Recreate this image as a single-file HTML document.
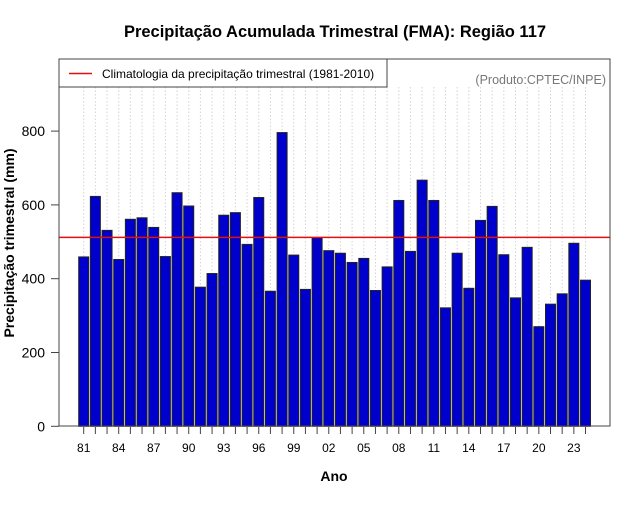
<!DOCTYPE html>
<html><head><meta charset="utf-8"><style>
body{margin:0;background:#fff;}
svg text{font-family:"Liberation Sans",sans-serif;}
</style></head><body>
<svg id="chart" width="640" height="500" xmlns="http://www.w3.org/2000/svg">
<rect width="640" height="500" fill="#fff"/>
<text x="335" y="37" text-anchor="middle" font-size="16.5" font-weight="bold">Precipitação Acumulada Trimestral (FMA): Região 117</text>
<g id="grid"></g>
<g id="bars"></g>
<g id="axes"></g>
<line id="clim" stroke="#e01010" stroke-width="1.5"/>
<rect x="59" y="59" width="551" height="367" fill="none" stroke="#444" stroke-width="1"/>
<g>
<rect x="59" y="59" width="328" height="28" fill="#fff" stroke="#444"/>
<line x1="69" y1="73.5" x2="92" y2="73.5" stroke="#e01010" stroke-width="1.5"/>
<text x="102" y="78" font-size="12">Climatologia da precipitação trimestral (1981-2010)</text>
</g>
<text x="606" y="84" text-anchor="end" font-size="12.5" fill="#777">(Produto:CPTEC/INPE)</text>
<text x="334" y="481" text-anchor="middle" font-size="14" font-weight="bold">Ano</text>
<text transform="translate(14,243) rotate(-90)" text-anchor="middle" font-size="14" font-weight="bold">Precipitação trimestral (mm)</text>
</svg>
<script>
const years=[1981,1982,1983,1984,1985,1986,1987,1988,1989,1990,1991,1992,1993,1994,1995,1996,1997,1998,1999,2000,2001,2002,2003,2004,2005,2006,2007,2008,2009,2010,2011,2012,2013,2014,2015,2016,2017,2018,2019,2020,2021,2022,2023,2024];
const values=[459,623,531,452,561,565,539,460,633,597,377,414,572,579,493,620,366,796,464,371,511,476,469,444,455,368,432,612,474,667,612,321,469,374,558,596,465,348,485,270,331,359,496,396];
const climatology=512;
const yTicks=[0,200,400,600,800];
const NS="http://www.w3.org/2000/svg";
const x0=83.7,step=11.67,barW=10;
function xPos(i){return x0+i*step;}
function yPos(v){return 426.3-v*0.369;}
const grid=document.getElementById('grid'),bars=document.getElementById('bars'),axes=document.getElementById('axes');
function mk(tag,attrs,parent){const e=document.createElementNS(NS,tag);for(const k in attrs)e.setAttribute(k,attrs[k]);parent.appendChild(e);return e;}
years.forEach((y,i)=>{
  const cx=xPos(i);
  const g=mk('line',{x1:cx,x2:cx,y1:87,y2:426,stroke:'#d4d4d4','stroke-dasharray':'1.5,2','stroke-width':1},grid);
  
  
  const b=mk('rect',{x:cx-barW/2,y:yPos(values[i]),width:barW,height:yPos(0)-yPos(values[i]),fill:'#0000cd',stroke:'#222','stroke-width':1},bars);
  
  
  const t=mk('line',{x1:cx,x2:cx,y1:427,y2:434,stroke:'#444'},axes);
  
  
  if(i%3===0){
    const l=mk('text',{x:cx,y:452,'text-anchor':'middle','font-size':12},axes);
    l.textContent=String(y).slice(2);
    
    
  }
});
yTicks.forEach(v=>{
  const yy=yPos(v);
  const t=mk('line',{x1:51,x2:59,y1:yy,y2:yy,stroke:'#444'},axes);
  
  
  const l=mk('text',{x:45,y:yy+5,'text-anchor':'end','font-size':14},axes);
  l.textContent=v;
  
  
});
const c=document.getElementById('clim');
c.setAttribute('x1',59);c.setAttribute('x2',610);
c.setAttribute('y1',yPos(climatology));c.setAttribute('y2',yPos(climatology));
</script>
</body></html>
